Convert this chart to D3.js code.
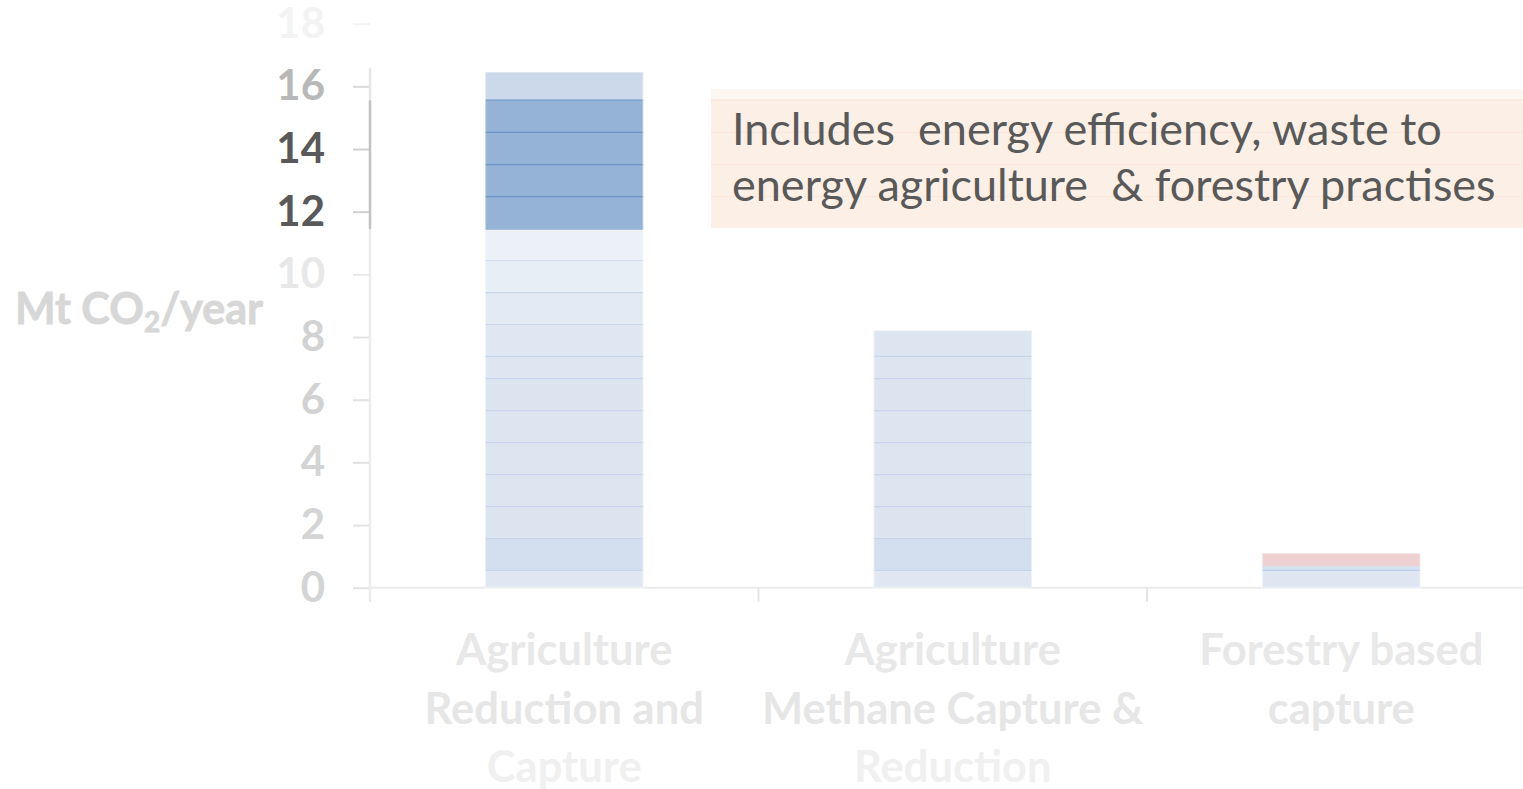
<!DOCTYPE html>
<html>
<head>
<meta charset="utf-8">
<script src="https://cdn.jsdelivr.net/npm/d3@7"></script>
<style>
  html, body { margin: 0; padding: 0; background: #ffffff; }
  svg { display: block; }
</style>
</head>
<body>
<script>
// ---- Data -------------------------------------------------------------
const categories = [
  "Agriculture Reduction and Capture",
  "Agriculture Methane Capture & Reduction",
  "Forestry based capture"
];
const categoryLines = [
  ["Agriculture", "Reduction and", "Capture"],
  ["Agriculture", "Methane Capture &", "Reduction"],
  ["Forestry based", "capture"]
];
// Stacked components of each bar, bottom to top (Mt CO2/year)
const agricultureReductionSegments = [0.55, 1.02, 1.02, 1.02, 1.02, 1.02, 1.02, 0.71, 1.02, 1.02, 1.02, 1.00, 1.04, 1.02, 1.03, 1.03, 0.90];
const methaneCaptureSegments = [0.55, 1.02, 1.02, 1.02, 1.02, 1.02, 1.02, 0.71, 0.83];
const forestrySegments = [0.55, 0.15, 0.40];
const barSegments = [agricultureReductionSegments, methaneCaptureSegments, forestrySegments];

const yTicks = [0, 2, 4, 6, 8, 10, 12, 14, 16, 18];
const yDomain = [0, 18];
const yTitle = ["Mt CO", "2", "/year"];
const noteLines = [
  "Includes  energy efficiency, waste to",
  "energy agriculture  & forestry practises"
];

// ---- Styles -----------------------------------------------------------
const segmentFills = [
  ["#e0e7f2", "#d3dfee", "#dce4f0", "#dde5f1", "#dde5f1", "#dde5f1", "#dce4f0", "#dfe6f1",
   "#e0e7f2", "#e3eaf4", "#e8eef6", "#ecf1f8", "#95b3d7", "#95b3d7", "#95b3d7", "#95b3d7", "#ccd9ea"],
  ["#e0e7f2", "#d3dfee", "#dce4f0", "#dde5f1", "#dde5f1", "#dde5f1", "#dce4f0", "#dde6f0", "#dde5f1"],
  ["#dfe6f2", "#d6e2f0", "#efd0d1"]
];
const segmentLines = [
  ["#c6d5ea", "#c6d5ea", "#c6d5ea", "#c6d5ea", "#c6d5ea", "#c6d5ea", "#c6d5ea", "#c6d5ea",
   "#c6d5ea", "#c9d7eb", "#d2def0", "#95b3d7", "#6c94c8", "#6c94c8", "#6c94c8", "#6f97ca"],
  ["#c6d5ea", "#c6d5ea", "#c6d5ea", "#c6d5ea", "#c6d5ea", "#c6d5ea", "#c6d5ea", "#c6d5ea"],
  ["#b9cde6", "#e6cfd6"]
];
const tickLabelColors = ["#d4d4d4", "#d4d4d4", "#d4d4d4", "#d2d2d2", "#d2d2d2", "#e8e8e8", "#595959", "#595959", "#b8b8b8", "#f3f3f3"];
const tickLineColors  = ["#e2e2e2", "#e2e2e2", "#e2e2e2", "#e2e2e2", "#e2e2e2", "#eaeaea", "#d0d0d0", "#d0d0d0", "#dadada", "#f3f3f3"];
const labelLineColors = ["#e8e8e8", "#e6e6e6", "#f0f0f0"];

// ---- Layout -----------------------------------------------------------
const W = 1523, H = 789;
const svg = d3.select("body").append("svg").attr("width", W).attr("height", H);

const y = d3.scaleLinear().domain(yDomain).range([587.7, 23.7]);
const x = d3.scaleBand().domain(categories).range([370, 1535.5]).padding(0);
const barWidth = x.bandwidth() * 0.407;
const x0 = x.range()[0];

// stacked rectangles
const stacked = categories.map((c, i) => {
  let acc = 0;
  return barSegments[i].map((v, j) => {
    const s = { cat: c, i, j, y0: acc, y1: acc + v };
    acc += v;
    return s;
  });
});
const totals = barSegments.map(s => d3.sum(s));

// ---- Note box (behind everything) ---------------------------------
const noteG = svg.append("g");
noteG.append("rect")
  .attr("x", 711).attr("y", 89).attr("width", W - 711).attr("height", 139)
  .attr("fill", "#fcefe6");
noteG.append("rect")
  .attr("x", 711).attr("y", 89).attr("width", W - 711).attr("height", 10)
  .attr("fill", "#fdf6f1");
// faint bands carried across the box
stacked[0].slice(0, -1).map(d => d.y1).filter(v => y(v) > 95 && y(v) < 225)
  .forEach(v => {
    noteG.append("line")
      .attr("x1", 711).attr("x2", W).attr("y1", y(v)).attr("y2", y(v))
      .attr("stroke", "#fae6db").attr("stroke-width", 1);
  });
noteG.selectAll("text.note").data(noteLines).join("text")
  .attr("class", "note")
  .attr("x", 732)
  .attr("y", (d, i) => 145 + i * 56)
  .attr("font-family", "Lato, 'Open Sans', sans-serif")
  .attr("font-size", 45)
  .attr("fill", "#595959")
  .style("white-space", "pre")
  .text(d => d);

// ---- Baseline and category ticks --------------------------------------
svg.append("line")
  .attr("x1", x0).attr("x2", W).attr("y1", y(0)).attr("y2", y(0))
  .attr("stroke", "#ebebeb").attr("stroke-width", 2);
svg.selectAll("line.cattick").data(categories).join("line")
  .attr("class", "cattick")
  .attr("x1", d => x(d)).attr("x2", d => x(d))
  .attr("y1", y(0)).attr("y2", y(0) + 14)
  .attr("stroke", "#e4e4e4").attr("stroke-width", 2);

// ---- Y axis -------------------------------------------------------------
const yAxis = d3.axisLeft(y)
  .tickValues(yTicks)
  .tickSize(17)
  .tickPadding(28)
  .tickFormat(d3.format("d"));
const axG = svg.append("g").attr("transform", `translate(${x0},0)`).call(yAxis);
axG.select(".domain").remove();
axG.selectAll(".tick line")
  .attr("stroke", (d, i) => tickLineColors[i]).attr("stroke-width", 2);
axG.selectAll(".tick text")
  .attr("font-family", "Lato, sans-serif")
  .attr("font-weight", "bold")
  .attr("font-size", 42)
  .attr("fill", (d, i) => tickLabelColors[i]);

// axis spine: faint overall, darker alongside the highlighted band
const darkLo = stacked[0][12].y0, darkHi = stacked[0][15].y1;
const spine = [
  { from: -0.4, to: darkLo, color: "#ececec" },
  { from: darkLo, to: darkHi, color: "#c2c2c2" },
  { from: darkHi, to: totals[0] + 0.12, color: "#e6e6e6" }
];
svg.selectAll("line.spine").data(spine).join("line")
  .attr("class", "spine")
  .attr("x1", x0).attr("x2", x0)
  .attr("y1", d => y(d.from)).attr("y2", d => y(d.to))
  .attr("stroke", d => d.color).attr("stroke-width", 2.5);

// ---- Y title --------------------------------------------------------------
const title = svg.append("text")
  .attr("x", 263).attr("y", 324)
  .attr("text-anchor", "end")
  .attr("font-family", "Lato, sans-serif")
  .attr("font-weight", "bold")
  .attr("font-size", 43)
  .attr("fill", "#d7d7d7")
  .attr("stroke", "#d7d7d7")
  .attr("stroke-width", 0.8);
title.append("tspan").text(yTitle[0]);
title.append("tspan").attr("font-size", 28).attr("dy", 8).text(yTitle[1]);
title.append("tspan").attr("dy", -8).text(yTitle[2]);

// ---- Bars -----------------------------------------------------------------
const barsG = svg.append("g");
stacked.forEach((segs, i) => {
  const bx = x(categories[i]) + (x.bandwidth() - barWidth) / 2;
  const g = barsG.append("g");
  g.selectAll("rect").data(segs).join("rect")
    .attr("x", bx)
    .attr("width", barWidth)
    .attr("y", d => y(d.y1))
    .attr("height", d => y(d.y0) - y(d.y1))
    .attr("fill", d => segmentFills[i][d.j]);
  g.selectAll("line").data(segs.slice(0, -1)).join("line")
    .attr("x1", bx).attr("x2", bx + barWidth)
    .attr("y1", d => y(d.y1)).attr("y2", d => y(d.y1))
    .attr("stroke", d => segmentLines[i][d.j]).attr("stroke-width", 1.2);
  // soft light edges on the bar sides
  g.append("rect")
    .attr("x", bx).attr("width", barWidth)
    .attr("y", y(totals[i])).attr("height", y(0) - y(totals[i]))
    .attr("fill", "none").attr("stroke", "#ffffff").attr("stroke-opacity", 0.35).attr("stroke-width", 2);
});

// ---- Category labels -----------------------------------------------------
categories.forEach((c, i) => {
  svg.append("g").selectAll("text").data(categoryLines[i]).join("text")
    .attr("x", x(c) + x.bandwidth() / 2)
    .attr("y", (d, k) => 650 + k * 58.5)
    .attr("dy", "0.35em")
    .attr("text-anchor", "middle")
    .attr("font-family", "Lato, sans-serif")
    .attr("font-weight", "bold")
    .attr("font-size", 43.5)
    .attr("fill", (d, k) => labelLineColors[k])
    .text(d => d);
});
</script>
</body>
</html>
